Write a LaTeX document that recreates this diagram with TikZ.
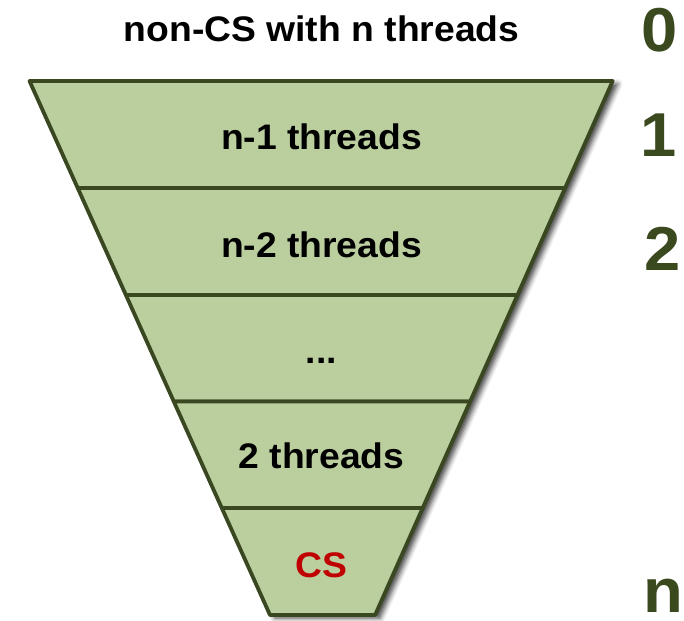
\documentclass[tikz,border=0pt]{standalone}
\usepackage{fontspec}
\setmainfont[FakeStretch=1.05]{Liberation Sans}
\usetikzlibrary{shadows.blur}
\definecolor{funnelfill}{RGB}{187,206,158}
\definecolor{funneledge}{RGB}{58,72,34}
\definecolor{levelcol}{RGB}{58,74,30}
\definecolor{csred}{RGB}{192,0,0}
\begin{document}
\begin{tikzpicture}[x=1pt,y=-1pt,
  stage/.style={fill=funnelfill,draw=funneledge,line width=3.8pt,line join=round},
  stagetext/.style={font=\bfseries\fontsize{35.5}{42}\selectfont,anchor=base,inner sep=0pt},
  levelnum/.style={font=\bfseries\fontsize{62}{70}\selectfont,text=levelcol,anchor=base west,inner sep=0pt}]
\useasboundingbox (0,0) rectangle (684,620);

% corners of the funnel stages, top to bottom
\coordinate (l0) at (29.5,81);   \coordinate (r0) at (612.7,81);
\coordinate (l1) at (77.7,188);  \coordinate (r1) at (565.1,188);
\coordinate (l2) at (125.9,295); \coordinate (r2) at (517.5,295);
\coordinate (l3) at (173.8,401.5); \coordinate (r3) at (470.1,401.5);
\coordinate (l4) at (221.8,508); \coordinate (r4) at (422.7,508);
\coordinate (l5) at (270,615);   \coordinate (r5) at (375.1,615);

% soft shadow behind the whole funnel
\fill[funnelfill,blur shadow={shadow xshift=5pt,shadow yshift=-3pt,shadow blur radius=5pt,shadow opacity=75}]
  (l0) -- (r0) -- (r5) -- (l5) -- cycle;

% the stacked stages
\draw[stage] (l0) -- (r0) -- (r1) -- (l1) -- cycle;
\draw[stage] (l1) -- (r1) -- (r2) -- (l2) -- cycle;
\draw[stage] (l2) -- (r2) -- (r3) -- (l3) -- cycle;
\draw[stage] (l3) -- (r3) -- (r4) -- (l4) -- cycle;
\draw[stage] (l4) -- (r4) -- (r5) -- (l5) -- cycle;

% stage texts
\node[stagetext] (top) at (321.5,41.5) {non-CS with n threads};
\node[stagetext] (s1) at (321.5,150) {n-1 threads};
\node[stagetext] (s2) at (321.5,257) {n-2 threads};
\node[stagetext] (s3) at (321.5,363) {...};
\node[stagetext] (s4) at (321.5,468) {2 threads};
\node[stagetext,text=csred] (s5) at (321.5,577) {CS};

% level numbers
\node[levelnum] (n0) at (641,52) {0};
\node[levelnum] (n1) at (640,157) {1};
\node[levelnum] (n2) at (644,270) {2};
\node[levelnum] (nn) at (643,612) {n};
\end{tikzpicture}
\end{document}
